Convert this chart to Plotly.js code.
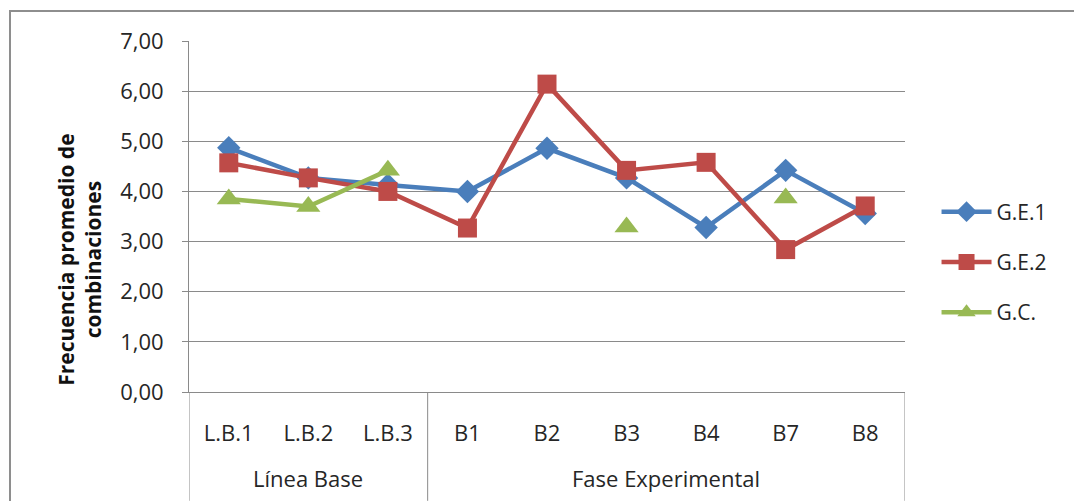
<!DOCTYPE html>
<html>
<head>
<meta charset="utf-8">
<script src="https://cdn.plot.ly/plotly-3.0.1.min.js"></script>
<style>
  html, body { margin: 0; padding: 0; background: #ffffff; }
  #wrap { position: relative; width: 1074px; height: 501px; overflow: hidden; }
  #chart { position: absolute; left: 0; top: 0; width: 1074px; height: 501px; }
  #frame { position: absolute; left: 9px; top: 10px; right: -4px; bottom: -4px;
           border-left: 2px solid #8e8e8e; border-top: 2px solid #8e8e8e; pointer-events: none; }
</style>
</head>
<body>
<div id="wrap">
  <div id="chart"></div>
  <div id="frame"></div>
</div>
<script>
// Phase of each session and session labels
const phases = ["Línea Base", "Línea Base", "Línea Base",
                "Fase Experimental", "Fase Experimental", "Fase Experimental",
                "Fase Experimental", "Fase Experimental", "Fase Experimental"];
const sessions = ["L.B.1", "L.B.2", "L.B.3", "B1", "B2", "B3", "B4", "B7", "B8"];

// Mean combination frequency per group
const ge1 = [4.87, 4.27, 4.13, 4.00, 4.86, 4.27, 3.28, 4.42, 3.56];
const ge2 = [4.57, 4.27, 4.00, 3.27, 6.14, 4.42, 4.58, 2.84, 3.71];
const gc  = [3.85, 3.70, 4.42, null, null, 3.29, null, 3.87, null];

const seriesNames = ["G.E.1", "G.E.2", "G.C."];
const yTicks = [0, 1, 2, 3, 4, 5, 6, 7];
const yTitle = "Frecuencia promedio de<br>combinaciones";

const FONT = "'Open Sans', 'Noto Sans', sans-serif";
const TXT = "#262626";
const GRID = "#8a8a8a";

// Group spans along the category axis (index-based)
const groups = [];
phases.forEach((p, i) => {
  const last = groups[groups.length - 1];
  if (last && last.name === p) last.end = i;
  else groups.push({ name: p, start: i, end: i });
});

const groupLabels = groups.map(g => ({
  text: g.name, xref: "x", yref: "paper",
  x: (g.start + g.end) / 2, y: -0.245,
  showarrow: false, xanchor: "center", yanchor: "middle",
  font: { family: FONT, size: 22, color: TXT }
}));

// Separators below the axis: at the start of every group and at the end
const dividerPos = groups.map(g => g.start - 0.5).concat([groups[groups.length - 1].end + 0.5]);
const dividers = dividerPos.map(v => ({
  type: "line", xref: "x", yref: "paper",
  x0: v, x1: v, y0: 0, y1: -0.31,
  line: { color: GRID, width: 1 }
}));

const traces = [
  {
    x: sessions, y: ge1, name: seriesNames[0], legendgroup: "a",
    type: "scatter", mode: "lines+markers", connectgaps: false,
    line: { color: "#4a7ebb", width: 4.5 },
    marker: { symbol: "diamond", size: 18, color: "#4a7ebb" }
  },
  {
    x: sessions, y: ge2, name: seriesNames[1], legendgroup: "b",
    type: "scatter", mode: "lines+markers", connectgaps: false,
    line: { color: "#be4b48", width: 4.5 },
    marker: { symbol: "square", size: 19, color: "#be4b48" }
  },
  {
    x: sessions, y: gc, name: seriesNames[2], legendgroup: "c",
    type: "scatter", mode: "lines+markers", connectgaps: false,
    line: { color: "#98b954", width: 4.5 },
    marker: { symbol: "triangle-up", size: 21, color: "#98b954" }
  }
];

const layout = {
  width: 1074, height: 501,
  margin: { l: 189, r: 169, t: 41, b: 109 },
  paper_bgcolor: "rgba(0,0,0,0)",
  plot_bgcolor: "#ffffff",
  separators: ",.",
  font: { family: FONT, size: 22, color: TXT },
  showlegend: true,
  legend: {
    xref: "container", yref: "container",
    x: 0.872, xanchor: "left", y: 0.477, yanchor: "middle",
    font: { family: FONT, size: 21, color: TXT },
    tracegroupgap: 20, itemwidth: 50,
    bgcolor: "rgba(0,0,0,0)"
  },
  xaxis: {
    type: "category", automargin: false,
    range: [-0.5, sessions.length - 0.5],
    showgrid: false, zeroline: false,
    showline: true, linecolor: GRID, linewidth: 1,
    ticks: "", ticklabelstandoff: 22,
    tickfont: { family: FONT, size: 22, color: TXT },
    fixedrange: true
  },
  yaxis: {
    automargin: false,
    range: [0, 7], tickvals: yTicks, tickformat: ".2f",
    showgrid: true, gridcolor: GRID, gridwidth: 1,
    zeroline: false, showline: true, linecolor: GRID, linewidth: 1,
    ticks: "outside", ticklen: 6, tickcolor: GRID,
    ticklabelstandoff: 14,
    tickfont: { family: FONT, size: 22, color: TXT },
    fixedrange: true
  },
  annotations: [
    {
      text: "<b>" + yTitle + "</b>", xref: "paper", yref: "paper",
      x: -0.154, y: 0.376, textangle: -90,
      showarrow: false, xanchor: "center", yanchor: "middle",
      font: { family: FONT, size: 21, color: "#111111" }
    }
  ].concat(groupLabels),
  shapes: dividers
};

Plotly.newPlot("chart", traces, layout, { displayModeBar: false, staticPlot: true });
</script>
</body>
</html>
